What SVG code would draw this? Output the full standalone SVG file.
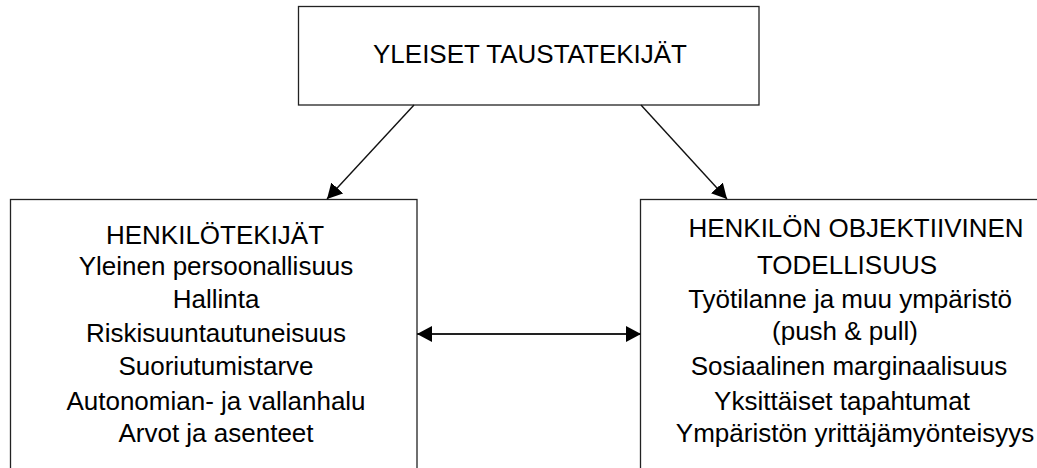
<svg xmlns="http://www.w3.org/2000/svg" width="1037" height="468" viewBox="0 0 1037 468">
<defs>
<style>
.box{fill:#fff;stroke:#222;stroke-width:1.3}
.t{font-family:"Liberation Sans",Arial,sans-serif;font-size:26px;fill:#000}
.c{text-anchor:middle}
.conn{stroke:#111;stroke-width:1.4;fill:none}
.conn2{stroke:#222;stroke-width:2;fill:none}
</style>
<marker id="ah" markerUnits="userSpaceOnUse" viewBox="0 0 15 16" markerWidth="15" markerHeight="16" refX="15" refY="8" orient="auto-start-reverse">
<path d="M0,0 L15,8 L0,16 z" fill="#000"/>
</marker>
</defs>
<rect width="1037" height="468" fill="#fff"/>
<g id="top">
<rect class="box" x="298.5" y="6.5" width="460.5" height="98.5"/>
<text class="t" x="373" y="63">YLEISET TAUSTATEKIJÄT</text>
</g>
<g id="left">
<rect class="box" x="10.5" y="199.5" width="406.5" height="320"/>
<text class="t c" x="215" y="244">HENKILÖTEKIJÄT</text>
<text class="t c" x="216" y="275">Yleinen persoonallisuus</text>
<text class="t c" x="216" y="308">Hallinta</text>
<text class="t c" x="216" y="342">Riskisuuntautuneisuus</text>
<text class="t c" x="216" y="375">Suoriutumistarve</text>
<text class="t c" x="216" y="410">Autonomian- ja vallanhalu</text>
<text class="t c" x="216" y="442">Arvot ja asenteet</text>
</g>
<g id="right">
<rect class="box" x="640.5" y="199.5" width="500" height="320"/>
<text class="t c" x="856" y="237">HENKILÖN OBJEKTIIVINEN</text>
<text class="t c" x="847" y="274">TODELLISUUS</text>
<text class="t c" x="850" y="308">Työtilanne ja muu ympäristö</text>
<text class="t c" x="845" y="340">(push &amp; pull)</text>
<text class="t c" x="849" y="375">Sosiaalinen marginaalisuus</text>
<text class="t c" x="842" y="410">Yksittäiset tapahtumat</text>
<text class="t c" x="855" y="442">Ympäristön yrittäjämyönteisyys</text>
</g>
<g id="connectors">
<line class="conn" x1="414" y1="105" x2="327" y2="199" marker-end="url(#ah)"/>
<line class="conn" x1="641" y1="105" x2="727" y2="199" marker-end="url(#ah)"/>
<line class="conn2" x1="417" y1="334" x2="641" y2="334" marker-start="url(#ah)" marker-end="url(#ah)"/>
</g>
</svg>
